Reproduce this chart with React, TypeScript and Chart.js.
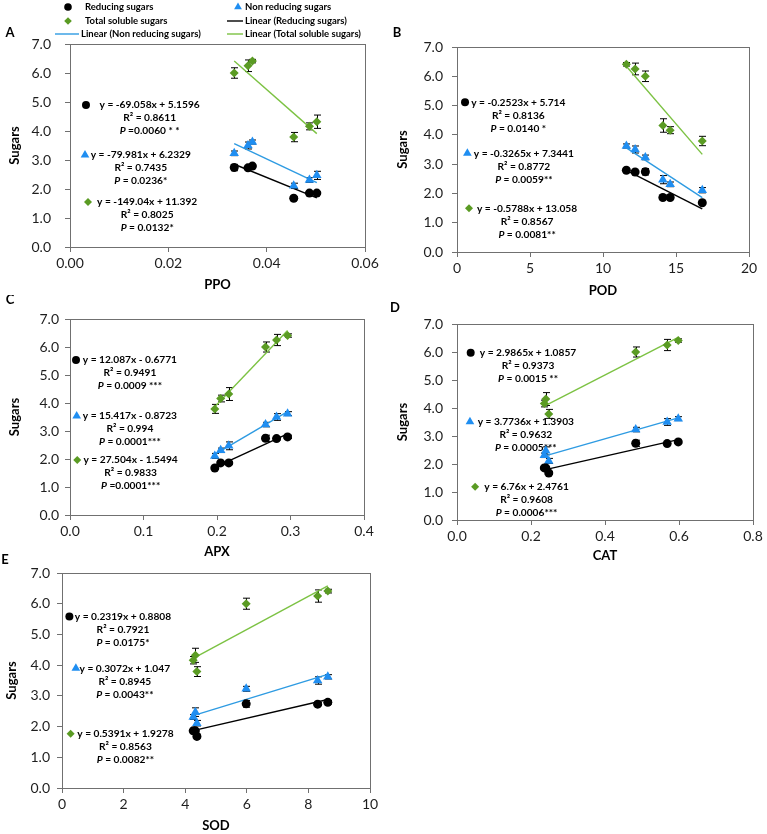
import React, { useEffect, useRef } from 'react';
import { Chart, registerables } from 'chart.js';

Chart.register(...registerables);

const FONT = 'Lato, "Open Sans", sans-serif';
const BLACK = '#000000';
const BLUE = '#1F8EF1';
const GREEN = '#5A9B23';
const BLUE_LINE = '#2E9BE2';
const GREEN_LINE = '#7CC243';
const AXIS = '#707070';
const TICK = '#1e1e1e';

// ---------------- data ----------------
const seriesNames = ['Reducing sugars', 'Non reducing sugars', 'Total soluble sugars'];
const reducingSugars = [2.79, 2.73, 2.74, 1.86, 1.86, 1.68];
const nonReducingSugars = [3.62, 3.5, 3.23, 2.47, 2.31, 2.11];
const totalSolubleSugars = [6.41, 6.25, 6.0, 4.32, 4.16, 3.79];
const reducingErr = [0.06, 0.05, 0.11, 0.04, 0.04, 0.05];
const nonReducingErr = [0.07, 0.12, 0.08, 0.14, 0.08, 0.09];
const totalErr = [0.06, 0.2, 0.18, 0.23, 0.12, 0.16];

const ppo = [0.0371, 0.0362, 0.0334, 0.0502, 0.0487, 0.0455];
const pod = [11.6, 12.2, 12.9, 14.1, 14.6, 16.8];
const apx = [0.296, 0.281, 0.266, 0.216, 0.205, 0.197];
const cat = [0.598, 0.568, 0.483, 0.24, 0.236, 0.248];
const sod = [8.63, 8.3, 5.98, 4.33, 4.26, 4.38];

const sugarTicks = [0, 1, 2, 3, 4, 5, 6, 7];
const sugarTickLabels = ['0.0', '1.0', '2.0', '3.0', '4.0', '5.0', '6.0', '7.0'];
const ppoTicks = [0, 0.02, 0.04, 0.06];
const ppoTickLabels = ['0.00', '0.02', '0.04', '0.06'];
const podTicks = [0, 5, 10, 15, 20];
const podTickLabels = ['0', '5', '10', '15', '20'];
const apxTicks = [0, 0.1, 0.2, 0.3, 0.4];
const apxTickLabels = ['0.0', '0.1', '0.2', '0.3', '0.4'];
const catTicks = [0, 0.2, 0.4, 0.6, 0.8];
const catTickLabels = ['0.0', '0.2', '0.4', '0.6', '0.8'];
const sodTicks = [0, 2, 4, 6, 8, 10];
const sodTickLabels = ['0', '2', '4', '6', '8', '10'];

// linear trend line end points (reducing, non reducing, total)
const ppoTrendX = [0.0334, 0.0502];
const ppoTrendR = [2.853, 1.693];
const ppoTrendN = [3.562, 2.218];
const ppoTrendT = [6.414, 3.91];
const podTrendX = [11.6, 16.8];
const podTrendR = [2.787, 1.475];
const podTrendN = [3.557, 1.859];
const podTrendT = [6.344, 3.334];
const apxTrendX = [0.197, 0.296];
const apxTrendR = [1.704, 2.901];
const apxTrendN = [2.165, 3.691];
const apxTrendT = [3.869, 6.592];
const catTrendX = [0.236, 0.598];
const catTrendR = [1.79, 2.872];
const catTrendN = [2.281, 3.647];
const catTrendT = [4.071, 6.518];
const sodTrendX = [4.26, 8.63];
const sodTrendR = [1.869, 2.882];
const sodTrendN = [2.356, 3.698];
const sodTrendT = [4.224, 6.58];

// regression texts
const ppoEq = ['y = -69.058x + 5.1596', 'y = -79.981x + 6.2329', 'y = -149.04x + 11.392'];
const ppoR2 = ['R² = 0.8611', 'R² = 0.7435', 'R² = 0.8025'];
const ppoP = ['P =0.0060 * *', 'P = 0.0236*', 'P = 0.0132*'];
const podEq = ['y = -0.2523x + 5.714', 'y = -0.3265x + 7.3441', 'y = -0.5788x + 13.058'];
const podR2 = ['R² = 0.8136', 'R² = 0.8772', 'R² = 0.8567'];
const podP = ['P = 0.0140 *', 'P = 0.0059**', 'P = 0.0081**'];
const apxEq = ['y = 12.087x - 0.6771', 'y = 15.417x - 0.8723', 'y = 27.504x - 1.5494'];
const apxR2 = ['R² = 0.9491', 'R² = 0.994', 'R² = 0.9833'];
const apxP = ['P = 0.0009 ***', 'P = 0.0001***', 'P =0.0001***'];
const catEq = ['y = 2.9865x + 1.0857', 'y = 3.7736x + 1.3903', 'y = 6.76x + 2.4761'];
const catR2 = ['R² = 0.9373', 'R² = 0.9632', 'R² = 0.9608'];
const catP = ['P = 0.0015 **', 'P = 0.0005***', 'P = 0.0006***'];
const sodEq = ['y = 0.2319x + 0.8808', 'y = 0.3072x + 1.047', 'y = 0.5391x + 1.9278'];
const sodR2 = ['R² = 0.7921', 'R² = 0.8945', 'R² = 0.8563'];
const sodP = ['P = 0.0175*', 'P = 0.0043**', 'P = 0.0082**'];

// ---------------- layout (positions only) ----------------
type Anchor = { mx: number; my: number; cx: number };

const panels = [
  {
    id: 'A', x: ppo, xTitle: 'PPO', xMax: 0.06, xTicks: ppoTicks, xTickLabels: ppoTickLabels,
    trendX: ppoTrendX, trendR: ppoTrendR, trendN: ppoTrendN, trendT: ppoTrendT,
    eq: ppoEq, r2: ppoR2, p: ppoP,
    anchors: [
      { mx: 0.00325, my: 4.9, cx: 0.0162 },
      { mx: 0.00305, my: 3.17, cx: 0.0144 },
      { mx: 0.00366, my: 1.55, cx: 0.0157 },
    ] as Anchor[],
    box: { left: 0, top: 0, width: 382, height: 293 },
    plot: { left: 70, top: 44, right: 365, bottom: 247 },
    letter: { x: 10, y: 33 }, yTitlePad: 7, yTickPad: 14, xTickPad: 3,
  },
  {
    id: 'B', x: pod, xTitle: 'POD', xMax: 20, xTicks: podTicks, xTickLabels: podTickLabels,
    trendX: podTrendX, trendR: podTrendR, trendN: podTrendN, trendT: podTrendT,
    eq: podEq, r2: podR2, p: podP,
    anchors: [
      { mx: 0.55, my: 5.11, cx: 4.2 },
      { mx: 0.71, my: 3.37, cx: 4.58 },
      { mx: 0.82, my: 1.49, cx: 4.8 },
    ] as Anchor[],
    box: { left: 380, top: 0, width: 387, height: 299 },
    plot: { left: 457, top: 47, right: 749, bottom: 252 },
    letter: { x: 397, y: 33 }, yTitlePad: 15, yTickPad: 9, xTickPad: 3,
  },
  {
    id: 'C', x: apx, xTitle: 'APX', xMax: 0.4, xTicks: apxTicks, xTickLabels: apxTickLabels,
    trendX: apxTrendX, trendR: apxTrendR, trendN: apxTrendN, trendT: apxTrendT,
    eq: apxEq, r2: apxR2, p: apxP,
    anchors: [
      { mx: 0.0082, my: 5.54, cx: 0.0815 },
      { mx: 0.0091, my: 3.54, cx: 0.0815 },
      { mx: 0.0099, my: 1.96, cx: 0.0825 },
    ] as Anchor[],
    box: { left: 0, top: 295, width: 382, height: 265 },
    plot: { left: 70, top: 319, right: 364, bottom: 515 },
    letter: { x: 10, y: 300 }, yTitlePad: 7, yTickPad: 6, xTickPad: 3,
  },
  {
    id: 'D', x: cat, xTitle: 'CAT', xMax: 0.8, xTicks: catTicks, xTickLabels: catTickLabels,
    trendX: catTrendX, trendR: catTrendR, trendN: catTrendN, trendT: catTrendT,
    eq: catEq, r2: catR2, p: catP,
    anchors: [
      { mx: 0.037, my: 5.975, cx: 0.192 },
      { mx: 0.035, my: 3.51, cx: 0.186 },
      { mx: 0.049, my: 1.19, cx: 0.188 },
    ] as Anchor[],
    box: { left: 380, top: 295, width: 387, height: 269 },
    plot: { left: 457, top: 324, right: 753, bottom: 520 },
    letter: { x: 395, y: 308 }, yTitlePad: 15, yTickPad: 9, xTickPad: 3,
  },
  {
    id: 'E', x: sod, xTitle: 'SOD', xMax: 10, xTicks: sodTicks, xTickLabels: sodTickLabels,
    trendX: sodTrendX, trendR: sodTrendR, trendN: sodTrendN, trendT: sodTrendT,
    eq: sodEq, r2: sodR2, p: sodP,
    anchors: [
      { mx: 0.24, my: 5.58, cx: 1.98 },
      { mx: 0.45, my: 3.9, cx: 2.04 },
      { mx: 0.28, my: 1.77, cx: 2.06 },
    ] as Anchor[],
    box: { left: 0, top: 550, width: 390, height: 284 },
    plot: { left: 62, top: 573, right: 370, bottom: 788 },
    letter: { x: 5, y: 560 }, yTitlePad: 4, yTickPad: 7, xTickPad: 3,
  },
];

const markerKinds = ['circle', 'triangle', 'diamond'];
const markerColors = [BLACK, BLUE, GREEN];
const markerRadii = [4.5, 5.5, 4.5];

const legendItems = [
  { kind: 'circle', color: BLACK, x1: 68, x2: 68, y: 7, tx: 85, label: seriesNames[0] },
  { kind: 'triangle', color: BLUE, x1: 238, x2: 238, y: 7, tx: 245, label: seriesNames[1] },
  { kind: 'diamond', color: GREEN, x1: 68, x2: 68, y: 21, tx: 85, label: seriesNames[2] },
  { kind: 'line', color: BLACK, x1: 227, x2: 243, y: 21, tx: 245, label: 'Linear (' + seriesNames[0] + ')' },
  { kind: 'line', color: BLUE_LINE, x1: 55, x2: 79, y: 34, tx: 81, label: 'Linear (' + seriesNames[1] + ')' },
  { kind: 'line', color: GREEN_LINE, x1: 227, x2: 243, y: 34, tx: 245, label: 'Linear (' + seriesNames[2] + ')' },
];

// ---------------- drawing helpers ----------------
function drawMarker(ctx: CanvasRenderingContext2D, kind: string, x: number, y: number, r: number, color: string) {
  ctx.save();
  ctx.fillStyle = color;
  ctx.beginPath();
  if (kind === 'circle') {
    ctx.arc(x, y, r, 0, Math.PI * 2);
  } else if (kind === 'triangle') {
    const w = r * Math.sin((2 * Math.PI) / 3);
    ctx.moveTo(x, y - r);
    ctx.lineTo(x + w, y + r / 2);
    ctx.lineTo(x - w, y + r / 2);
    ctx.closePath();
  } else {
    ctx.moveTo(x, y - r);
    ctx.lineTo(x + r, y);
    ctx.lineTo(x, y + r);
    ctx.lineTo(x - r, y);
    ctx.closePath();
  }
  ctx.fill();
  ctx.restore();
}

function drawPLine(ctx: CanvasRenderingContext2D, text: string, cx: number, y: number, size: number) {
  const fI = `italic bold ${size}px ${FONT}`;
  const fB = `bold ${size}px ${FONT}`;
  const head = text.slice(0, 1);
  const rest = text.slice(1);
  ctx.font = fI;
  const w1 = ctx.measureText(head).width;
  ctx.font = fB;
  const w2 = ctx.measureText(rest).width;
  const x0 = cx - (w1 + w2) / 2;
  ctx.textAlign = 'left';
  ctx.font = fI;
  ctx.fillText(head, x0, y);
  ctx.font = fB;
  ctx.fillText(rest, x0 + w1, y);
}

const ANN_SIZE = 10.2;

function createPanel(canvas: HTMLCanvasElement, p: any, withLegend: boolean) {
  const padTop = p.plot.top - p.box.top;
  const padRight = p.box.left + p.box.width - p.plot.right;
  const yW = p.plot.left - p.box.left;
  const xH = p.box.top + p.box.height - p.plot.bottom;

  const pts = (ys: number[]) => p.x.map((xv: number, i: number) => ({ x: xv, y: ys[i] }));
  const tl = (ys: number[]) => p.trendX.map((xv: number, i: number) => ({ x: xv, y: ys[i] }));
  const series = [reducingSugars, nonReducingSugars, totalSolubleSugars];
  const errs = [reducingErr, nonReducingErr, totalErr];

  const datasets: any[] = series.map((s, k) => ({
    label: seriesNames[k],
    data: pts(s),
    showLine: false,
    pointStyle: k === 0 ? 'circle' : k === 1 ? 'triangle' : 'rectRot',
    pointRadius: markerRadii[k],
    pointBackgroundColor: markerColors[k],
    pointBorderColor: markerColors[k],
    pointBorderWidth: 0,
    err: errs[k],
  }));
  [p.trendR, p.trendN, p.trendT].forEach((t: number[], k: number) => {
    datasets.push({
      label: 'Linear (' + seriesNames[k] + ')',
      data: tl(t),
      showLine: true,
      pointRadius: 0,
      borderColor: [BLACK, BLUE_LINE, GREEN_LINE][k],
      borderWidth: 1.4,
      tension: 0,
    });
  });

  const decor = {
    id: 'decor' + p.id,
    beforeDatasetsDraw(chart: any) {
      const { ctx, chartArea: a, scales } = chart;
      const xs = scales.x;
      const ys = scales.y;
      ctx.save();
      // plot frame
      ctx.strokeStyle = AXIS;
      ctx.lineWidth = 1;
      const l = Math.round(a.left) + 0.5;
      const t = Math.round(a.top) + 0.5;
      const r = Math.round(a.right) + 0.5;
      const b = Math.round(a.bottom) + 0.5;
      ctx.strokeRect(l, t, r - l, b - t);
      // regression annotations
      ctx.textBaseline = 'middle';
      p.anchors.forEach((an: Anchor, k: number) => {
        const mx = xs.getPixelForValue(an.mx);
        const my = ys.getPixelForValue(an.my);
        const cx = xs.getPixelForValue(an.cx);
        drawMarker(ctx, markerKinds[k], mx, my, markerRadii[k] - 0.5, markerColors[k]);
        ctx.fillStyle = '#000';
        ctx.textAlign = 'center';
        ctx.font = `bold ${ANN_SIZE}px ${FONT}`;
        ctx.fillText(p.eq[k], cx, my);
        ctx.fillText(p.r2[k], cx, my + 13);
        drawPLine(ctx, p.p[k], cx, my + 26, ANN_SIZE);
      });
      // error bars
      ctx.strokeStyle = '#000';
      ctx.lineWidth = 1;
      chart.data.datasets.forEach((ds: any) => {
        if (!ds.err) return;
        ds.data.forEach((pt: any, i: number) => {
          const px = Math.round(xs.getPixelForValue(pt.x)) + 0.5;
          const y1 = ys.getPixelForValue(pt.y + ds.err[i]);
          const y2 = ys.getPixelForValue(pt.y - ds.err[i]);
          ctx.beginPath();
          ctx.moveTo(px, y1);
          ctx.lineTo(px, y2);
          ctx.moveTo(px - 3.5, y1);
          ctx.lineTo(px + 3.5, y1);
          ctx.moveTo(px - 3.5, y2);
          ctx.lineTo(px + 3.5, y2);
          ctx.stroke();
        });
      });
      ctx.restore();
    },
    afterDraw(chart: any) {
      const { ctx } = chart;
      ctx.save();
      ctx.fillStyle = '#000';
      ctx.textBaseline = 'middle';
      ctx.textAlign = 'center';
      ctx.font = `bold 13px ${FONT}`;
      ctx.fillText(p.id, p.letter.x - p.box.left, p.letter.y - p.box.top);
      if (withLegend) {
        legendItems.forEach((it) => {
          const x1 = it.x1 - p.box.left;
          const y = it.y - p.box.top;
          if (it.kind === 'line') {
            ctx.strokeStyle = it.color;
            ctx.lineWidth = 1.4;
            ctx.beginPath();
            ctx.moveTo(x1, y);
            ctx.lineTo(it.x2 - p.box.left, y);
            ctx.stroke();
          } else {
            drawMarker(ctx, it.kind, x1, y, it.kind === 'triangle' ? 4.5 : 3.8, it.color);
          }
          ctx.fillStyle = '#000';
          ctx.textAlign = 'left';
          ctx.font = `bold 9.5px ${FONT}`;
          ctx.fillText(it.label, it.tx - p.box.left, y);
        });
      }
      ctx.restore();
    },
  };

  return new Chart(canvas, {
    type: 'scatter',
    data: { datasets },
    plugins: [decor],
    options: {
      animation: false,
      responsive: false,
      devicePixelRatio: 1,
      events: [],
      layout: { padding: { left: 0, top: padTop, right: padRight, bottom: 0 } },
      plugins: { legend: { display: false }, tooltip: { enabled: false } },
      scales: {
        x: {
          type: 'linear',
          position: 'bottom',
          min: 0,
          max: p.xMax,
          afterBuildTicks: (s: any) => {
            s.ticks = p.xTicks.map((v: number) => ({ value: v }));
          },
          afterFit: (s: any) => {
            s.height = xH;
          },
          ticks: {
            autoSkip: false,
            maxRotation: 0,
            padding: p.xTickPad,
            color: TICK,
            font: { family: FONT, size: 14 },
            callback: (v: any, i: number) => p.xTickLabels[i] ?? String(v),
          },
          grid: { drawOnChartArea: false, drawTicks: true, tickLength: 5, color: AXIS },
          border: { display: false },
          title: {
            display: true,
            text: p.xTitle,
            color: '#000',
            font: { family: FONT, size: 13, weight: 'bold' },
            padding: 0,
          },
        },
        y: {
          type: 'linear',
          position: 'left',
          min: 0,
          max: 7,
          afterBuildTicks: (s: any) => {
            s.ticks = sugarTicks.map((v) => ({ value: v }));
          },
          afterFit: (s: any) => {
            s.width = yW;
          },
          ticks: {
            autoSkip: false,
            padding: p.yTickPad,
            color: TICK,
            font: { family: FONT, size: 14 },
            callback: (v: any, i: number) => sugarTickLabels[i] ?? String(v),
          },
          grid: { drawOnChartArea: false, drawTicks: true, tickLength: 5, color: AXIS },
          border: { display: false },
          title: {
            display: true,
            text: 'Sugars',
            color: '#000',
            font: { family: FONT, size: 13, weight: 'bold' },
            padding: { top: p.yTitlePad, bottom: 0 },
          },
        },
      },
    } as any,
  });
}

export default function App() {
  const refs = useRef<(HTMLCanvasElement | null)[]>([]);
  useEffect(() => {
    const charts = panels.map((p, i) => createPanel(refs.current[i] as HTMLCanvasElement, p, i === 0));
    return () => charts.forEach((c) => c.destroy());
  }, []);
  return (
    <div style={{ position: 'absolute', left: 0, top: 0, width: 767, height: 834, background: '#fff', overflow: 'hidden' }}>
      {panels.map((p, i) => (
        <canvas
          key={p.id}
          ref={(el) => {
            refs.current[i] = el;
          }}
          width={p.box.width}
          height={p.box.height}
          style={{ position: 'absolute', left: p.box.left, top: p.box.top, width: p.box.width, height: p.box.height }}
        />
      ))}
    </div>
  );
}
